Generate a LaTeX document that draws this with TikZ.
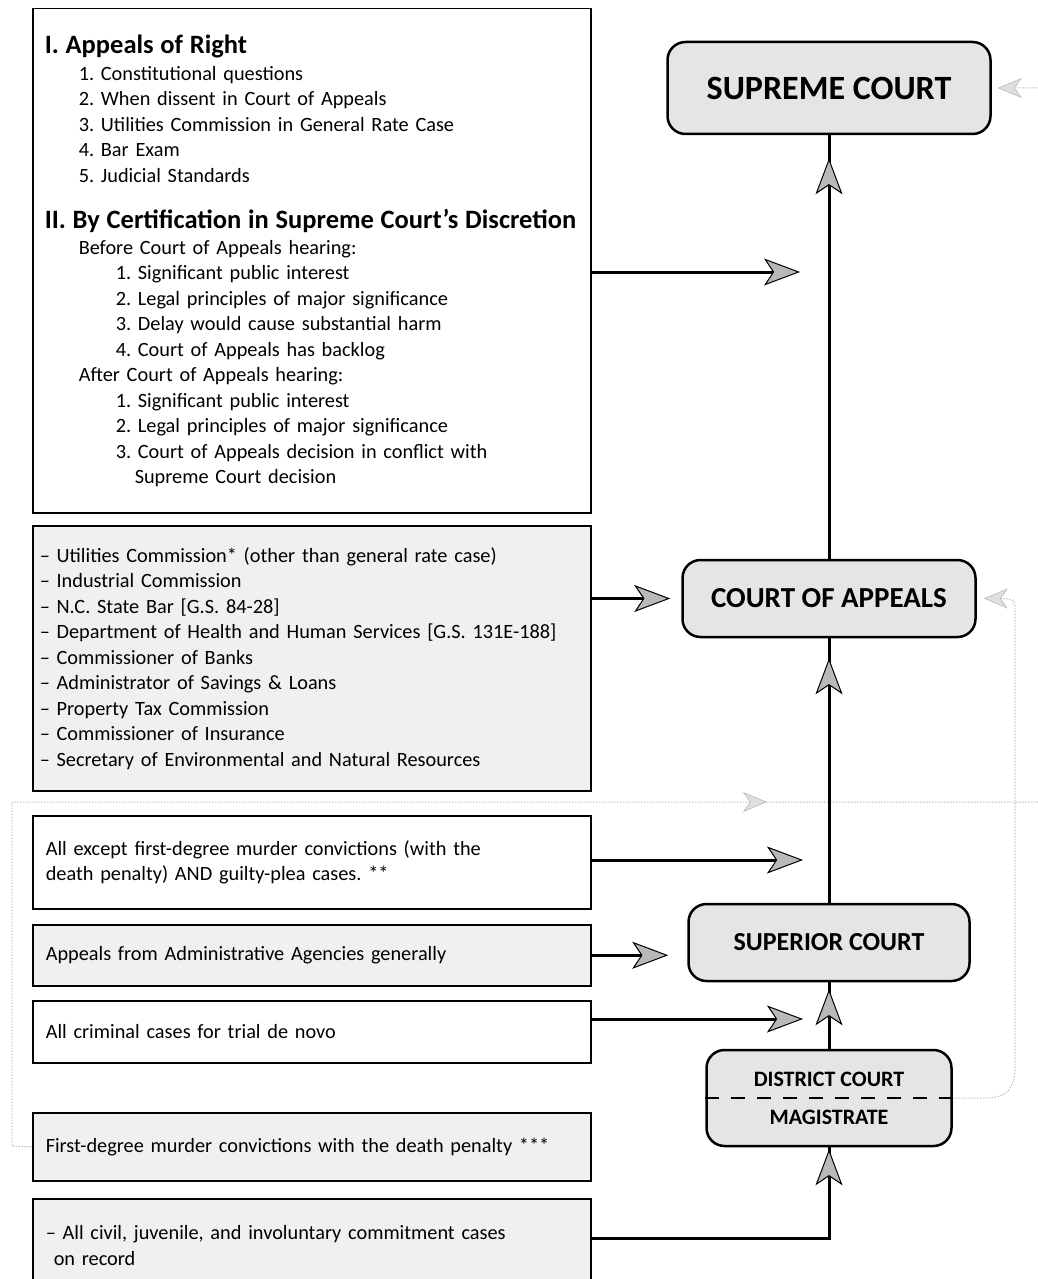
\documentclass[tikz,border=0pt]{standalone}
\usepackage{fontspec}
\setmainfont{Carlito}
\usetikzlibrary{arrows.meta,decorations.markings,calc}
\setlength{\parindent}{0pt}
\frenchspacing
\newcommand{\bodyf}{\fontsize{20.3}{25.5}\selectfont\lineskiplimit=-20pt}
\newcommand{\hdfont}{\fontsize{26.5}{25.5}\selectfont\bfseries}
\begin{document}
\begin{tikzpicture}[x=1pt,y=-1pt,
  txtbox/.style={draw, line width=1.5pt, anchor=north west, minimum width=558pt,
    inner ysep=0pt, font=\bodyf},
  shadebox/.style={fill=gray!12},
  court/.style={draw, line width=2.5pt, rounded corners=18pt, fill=gray!20,
    align=center, inner sep=0pt},
  mainline/.style={line width=3pt},
  bigtip/.tip={Stealth[length=36pt,width=27pt,inset=9pt,fill=gray!55,line width=1pt]},
  graytip/.tip={Stealth[length=24pt,width=20pt,inset=7pt,fill=gray!25,line width=0.6pt]},
  grayline/.style={draw=gray!55, line width=1pt, dash pattern=on 1.5pt off 1.5pt},
  upmark/.style={postaction={decorate,decoration={markings,
    mark=at position #1 with {\arrow{bigtip}}}}},
]
\useasboundingbox (0,0) rectangle (1037,1279);

% left text boxes
\node[txtbox, minimum height=504pt, inner xsep=12pt, text width=534pt] (b1) at (32,8) {%
{\hdfont I. Appeals of Right}\\[1.5pt]
\hspace*{34pt}1. Constitutional questions\\
\hspace*{34pt}2. When dissent in Court of Appeals\\
\hspace*{34pt}3. Utilities Commission in General Rate Case\\
\hspace*{34pt}4. Bar Exam\\
\hspace*{34pt}5. Judicial Standards\\[21pt]
{\hdfont II. By Certification in Supreme Court’s Discretion}\\
\hspace*{34pt}Before Court of Appeals hearing:\\
\hspace*{71pt}1. Significant public interest\\
\hspace*{71pt}2. Legal principles of major significance\\
\hspace*{71pt}3. Delay would cause substantial harm\\
\hspace*{71pt}4. Court of Appeals has backlog\\
\hspace*{34pt}After Court of Appeals hearing:\\
\hspace*{71pt}1. Significant public interest\\
\hspace*{71pt}2. Legal principles of major significance\\
\hspace*{71pt}3. Court of Appeals decision in conflict with\\
\hspace*{90pt}Supreme Court decision};

\node[txtbox, shadebox, minimum height=265pt, inner xsep=7pt, text width=544pt] (b2) at (32,525) {%
– Utilities Commission* (other than general rate case)\\
– Industrial Commission\\
– N.C. State Bar [G.S. 84-28]\\
– Department of Health and Human Services [G.S. 131E-188]\\
– Commissioner of Banks\\
– Administrator of Savings \& Loans\\
– Property Tax Commission\\
– Commissioner of Insurance\\
– Secretary of Environmental and Natural Resources};

\node[txtbox, minimum height=93pt, inner xsep=13pt, text width=532pt] (b3) at (32,815) {%
All except first-degree murder convictions (with the\\
death penalty) AND guilty-plea cases. **};

\node[txtbox, shadebox, minimum height=61pt, inner xsep=13pt, text width=532pt] (b4) at (32,924) {%
Appeals from Administrative Agencies generally};

\node[txtbox, minimum height=62pt, inner xsep=13pt, text width=532pt] (b5) at (32,1000) {%
All criminal cases for trial de novo};

\node[txtbox, shadebox, minimum height=68pt, inner xsep=13pt, text width=532pt] (b6) at (32,1112) {%
First-degree murder convictions with the death penalty ***};

\node[txtbox, shadebox, minimum height=94pt, inner xsep=13pt, text width=532pt] (b7) at (32,1198) {%
– All civil, juvenile, and involuntary commitment cases\\
\hspace*{8pt}on record};

% courts
\node[court, minimum width=323pt, minimum height=92pt,
  font=\fontsize{34}{36}\selectfont\bfseries] (sc) at (829,88) {SUPREME COURT};
\node[court, minimum width=293pt, minimum height=77pt,
  font=\fontsize{29}{32}\selectfont\bfseries] (coa) at (829,598.5) {COURT OF APPEALS};
\node[court, minimum width=281pt, minimum height=77pt,
  font=\fontsize{26}{29}\selectfont\bfseries] (sup) at (829,942.5) {SUPERIOR COURT};
\node[court, minimum width=245pt, minimum height=96pt,
  font=\fontsize{22}{38}\selectfont\bfseries] (dc) at (829,1098) {DISTRICT COURT\\MAGISTRATE};
\draw[line width=2.5pt, dash pattern=on 14pt off 12pt] (dc.west) -- (dc.east);

% free arrow ends
\coordinate (c1) at (800,272);
\coordinate (c3) at (803,860);
\coordinate (c5) at (803,1019);
\coordinate (c7) at (829,1238);

% gray connectors
\draw[grayline, -{graytip}, shorten >=7pt]
  (dc.east) -- (985,1098) .. controls (1008,1098) and (1015,1088) .. (1015,1065)
  -- (1015,606) .. controls (1015,600) and (1012,598.5) .. (coa.east);
\draw[grayline, -{graytip}, shorten >=6pt,
  postaction={decorate,decoration={markings,mark=at position 1119pt with {\arrow{graytip}}}}]
  (b6.west) -- (12,1146) -- (12,802) -- (1050,802) -- (1050,88) -- (sc.east);

% main vertical connectors
\draw[mainline, upmark=-23pt] (coa.north) -- (sc.south);
\draw[mainline, upmark=-20pt] (sup.north) -- (coa.south);
\draw[mainline, upmark=-7pt] (dc.north) -- (sup.south);
\draw[mainline, upmark=-2pt] (b7.east |- c7) -- (c7) -- (dc.south);

% horizontal connectors
\draw[mainline, -{bigtip}] (b1.east |- c1) -- (c1);
\draw[mainline, -{bigtip}, shorten >=11pt] (b2.east |- coa.west) -- (coa.west);
\draw[mainline, -{bigtip}] (b3.east |- c3) -- (c3);
\draw[mainline, -{bigtip}, shorten >=19pt] (b4.east) -- (sup.west |- b4.east);
\draw[mainline, -{bigtip}] (b5.east |- c5) -- (c5);
\end{tikzpicture}
\end{document}
